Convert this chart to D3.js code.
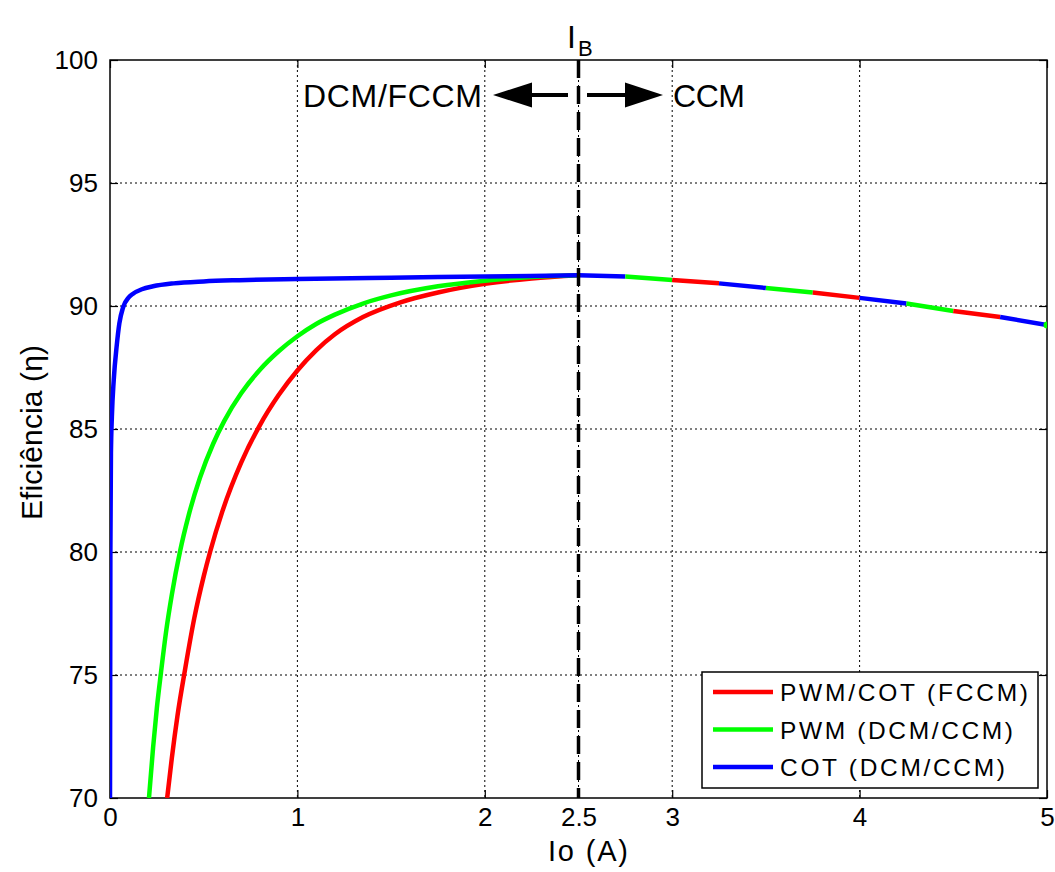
<!DOCTYPE html>
<html><head><meta charset="utf-8">
<script src="https://cdn.jsdelivr.net/npm/d3@7"></script>
<style>body{margin:0;background:#fff}svg{display:block;font-family:"Liberation Sans",Arial,sans-serif}</style>
</head><body><svg id="c" width="1055" height="872"></svg>
<script>
// ---- data ----
const xTicks = [0, 1, 2, 2.5, 3, 4, 5];
const yTicks = [70, 75, 80, 85, 90, 95, 100];
const seriesNames = ["PWM/COT (FCCM)", "PWM (DCM/CCM)", "COT (DCM/CCM)"];
const seriesColors = ["#ff0000", "#00ff00", "#0000ff"];
// DCM / FCCM region (Io <= 2.5)
const redX   = [0.305, 0.33, 0.36, 0.40, 0.45, 0.50, 0.534, 0.60, 0.70, 0.80, 0.90, 1.0, 1.1, 1.2, 1.35, 1.55, 1.75, 2.0, 2.25, 2.5];
const redY   = [70, 71.63, 73.34, 75.2, 77.32, 79.01, 80, 81.66, 83.63, 85.16, 86.38, 87.38, 88.2, 88.85, 89.55, 90.15, 90.55, 90.9, 91.12, 91.25];
const greenX = [0.208, 0.23, 0.25, 0.272, 0.30, 0.33, 0.373, 0.42, 0.48, 0.55, 0.61, 0.70, 0.80, 0.90, 1.0, 1.1, 1.2, 1.35, 1.5, 1.75, 2.0, 2.25, 2.5];
const greenY = [70, 72.06, 73.66, 75.1, 76.8, 78.27, 80, 81.5, 83.02, 84.39, 85.33, 86.45, 87.41, 88.16, 88.77, 89.27, 89.65, 90.1, 90.43, 90.8, 91.03, 91.18, 91.25];
const blueX  = [0, 0.002, 0.005, 0.01, 0.02, 0.036, 0.05, 0.07, 0.1, 0.123, 0.17, 0.23, 0.34, 0.5, 0.69, 1.0, 1.5, 2.0, 2.5];
const blueY  = [70, 80, 84, 85.5, 87, 88.4, 89.3, 89.95, 90.35, 90.5, 90.68, 90.8, 90.92, 91.0, 91.05, 91.1, 91.15, 91.2, 91.25];
// CCM region: common curve
const ccmX = [2.5, 2.75, 3.0, 3.25, 3.5, 3.75, 4.0, 4.25, 4.5, 4.75, 5.0];
const ccmY = [91.25, 91.2, 91.06, 90.92, 90.73, 90.55, 90.33, 90.1, 89.8, 89.55, 89.23];
// series index visible on top for each CCM segment (0 red,1 green,2 blue)
const ccmSegSeries = [2, 1, 0, 2, 1, 0, 2, 1, 0, 2];
const boundaryIo = 2.5;

// ---- layout ----
const svg = d3.select("#c");
const L = 110, R = 1047, T = 60, B = 798;
const x = d3.scaleLinear().domain([0, 5]).range([L, R]);
const y = d3.scaleLinear().domain([70, 100]).range([B, T]);

// grid
const g = svg.append("g");
g.selectAll(".gx").data(xTicks.filter(d => d > 0 && d < 5)).join("line")
  .attr("x1", d => x(d)).attr("x2", d => x(d)).attr("y1", T).attr("y2", B)
  .attr("stroke", "#000").attr("stroke-width", 1).attr("stroke-dasharray", "2,3");
g.selectAll(".gy").data(yTicks.filter(d => d > 70 && d < 100)).join("line")
  .attr("y1", d => y(d)).attr("y2", d => y(d)).attr("x1", L).attr("x2", R)
  .attr("stroke", "#000").attr("stroke-width", 1).attr("stroke-dasharray", "2,3");

// axes
const xa = svg.append("g").attr("transform", `translate(0,${B})`)
  .call(d3.axisBottom(x).tickValues(xTicks).tickFormat(d3.format("")).tickSizeInner(-8).tickSizeOuter(0).tickPadding(10));
const xt = svg.append("g").attr("transform", `translate(0,${T})`)
  .call(d3.axisTop(x).tickValues(xTicks).tickFormat("").tickSizeInner(-8).tickSizeOuter(0));
const ya = svg.append("g").attr("transform", `translate(${L},0)`)
  .call(d3.axisLeft(y).tickValues(yTicks).tickSizeInner(-8).tickSizeOuter(0).tickPadding(12));
const yr = svg.append("g").attr("transform", `translate(${R},0)`)
  .call(d3.axisRight(y).tickValues(yTicks).tickFormat("").tickSizeInner(-8).tickSizeOuter(0));
[xa, xt, ya, yr].forEach(a => {
  a.select(".domain").remove();
  a.selectAll("line").attr("stroke", "#000").attr("stroke-width", 1.2);
  a.selectAll("text").attr("font-size", 26).attr("fill", "#000").attr("font-family", "Liberation Sans, Arial, sans-serif");
});
svg.append("rect").attr("x", L).attr("y", T).attr("width", R - L).attr("height", B - T)
  .attr("fill", "none").attr("stroke", "#000").attr("stroke-width", 1.5);

// clip
svg.append("clipPath").attr("id", "clip").append("rect").attr("x", L).attr("y", T).attr("width", R - L).attr("height", B - T);
const plot = svg.append("g").attr("clip-path", "url(#clip)");
const line = d3.line().x(d => x(d[0])).y(d => y(d[1])).curve(d3.curveMonotoneX);
const pairs = (xs, ys) => xs.map((v, i) => [v, ys[i]]);

plot.append("path").datum(pairs(redX, redY)).attr("d", line)
  .attr("fill", "none").attr("stroke", seriesColors[0]).attr("stroke-width", 4.5);
plot.append("path").datum(pairs(greenX, greenY)).attr("d", line)
  .attr("fill", "none").attr("stroke", seriesColors[1]).attr("stroke-width", 4.5);
plot.append("path").datum(pairs(blueX, blueY)).attr("d", line)
  .attr("fill", "none").attr("stroke", seriesColors[2]).attr("stroke-width", 4.5);

// CCM segments
const ccmPts = pairs(ccmX, ccmY);
ccmSegSeries.forEach((s, i) => {
  plot.append("path").datum([ccmPts[i], ccmPts[i + 1]]).attr("d", d3.line().x(d => x(d[0])).y(d => y(d[1])))
    .attr("fill", "none").attr("stroke", seriesColors[s]).attr("stroke-width", 4.5);
});
plot.append("circle").attr("cx", x(ccmX[ccmX.length - 1])).attr("cy", y(ccmY[ccmY.length - 1]))
  .attr("r", 3.5).attr("fill", seriesColors[1]);

// boundary line
svg.append("line").attr("x1", x(boundaryIo)).attr("x2", x(boundaryIo)).attr("y1", T).attr("y2", B)
  .attr("stroke", "#000").attr("stroke-width", 3.5).attr("stroke-dasharray", "18,8");

// I_B label
const ib = svg.append("text").attr("x", 567).attr("y", 48).attr("font-size", 32).attr("fill", "#000");
ib.append("tspan").text("I");
ib.append("tspan").attr("font-size", 22).attr("dy", 8).attr("dx", 2).text("B");

// region labels and arrows
svg.append("text").attr("x", 303).attr("y", 107).attr("font-size", 32).attr("textLength", 179).text("DCM/FCCM");
svg.append("text").attr("x", 673).attr("y", 107).attr("font-size", 32).attr("textLength", 72).text("CCM");
const ay = 95;
svg.append("line").attr("x1", 530).attr("x2", 568).attr("y1", ay).attr("y2", ay).attr("stroke", "#000").attr("stroke-width", 4);
svg.append("path").attr("d", `M493,${ay} L532,${ay - 12.5} L532,${ay + 12.5} Z`).attr("fill", "#000");
svg.append("line").attr("x1", 587).attr("x2", 627).attr("y1", ay).attr("y2", ay).attr("stroke", "#000").attr("stroke-width", 4);
svg.append("path").attr("d", `M663,${ay} L625,${ay - 12.5} L625,${ay + 12.5} Z`).attr("fill", "#000");

// axis labels
svg.append("text").attr("x", 548).attr("y", 861).attr("font-size", 29).attr("textLength", 80).text("Io (A)");
svg.append("text").attr("transform", "translate(42,520) rotate(-90)").attr("font-size", 30).attr("textLength", 175).text("Eficiência (η)");

// legend
const legendWidths = [248, 233, 225];
const lg = svg.append("g");
lg.append("rect").attr("x", 702).attr("y", 672).attr("width", 336).attr("height", 116)
  .attr("fill", "#fff").attr("stroke", "#000").attr("stroke-width", 1.5);
seriesNames.forEach((n, i) => {
  const yy = 692 + i * 37.5;
  lg.append("line").attr("x1", 713).attr("x2", 773).attr("y1", yy).attr("y2", yy)
    .attr("stroke", seriesColors[i]).attr("stroke-width", 4.5);
  lg.append("text").attr("x", 780).attr("y", yy + 9).attr("font-size", 24.5)
    .attr("textLength", legendWidths[i]).text(n);
});
</script></body></html>
